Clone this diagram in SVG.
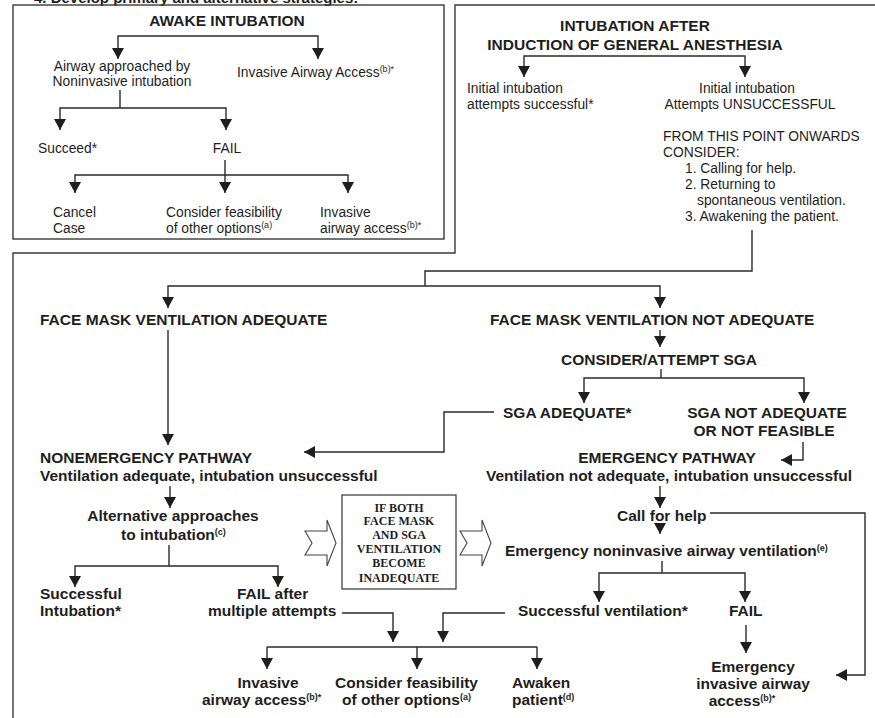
<svg xmlns="http://www.w3.org/2000/svg" width="875" height="718" viewBox="0 0 875 718">
<style>
text{font-family:"Liberation Sans",Arial,sans-serif;fill:#1e1e1e}
.r{font-size:13.8px}
.b{font-size:15.5px;font-weight:bold}
.m{text-anchor:middle}
.s{font-family:"Liberation Serif","Times New Roman",serif;font-size:12px;font-weight:bold;text-anchor:middle}
.sup{font-size:9px}
.ln{fill:none;stroke:#2a2a2a;stroke-width:1.4}
.ar{fill:none;stroke:#2a2a2a;stroke-width:1.4;marker-end:url(#ah)}
.frame{fill:none;stroke:#3a3a3a;stroke-width:1.4}
.blk{fill:#fff;stroke:#444;stroke-width:1.1}
</style>
<defs>
<marker id="ah" markerUnits="userSpaceOnUse" markerWidth="13" markerHeight="13" refX="11" refY="6.5" orient="auto">
<path d="M0,0.5 L11,6.5 L0,12.5 z" fill="#1e1e1e"/>
</marker>
</defs>
<rect width="875" height="718" fill="#fff"/>
<text class="b" x="34" y="3" style="font-size:15px">4. Develop primary and alternative strategies:</text>
<g id="frames">
<rect class="frame" x="13" y="5" width="431" height="234"/>
<path class="frame" d="M13,718 V253 H455 V5 H875"/>
</g>
<g id="connectors">
<path class="ar" d="M227,36 H118 V59"/>
<path class="ar" d="M227,36 H318 V59"/>
<path class="ln" d="M120,90 V108"/>
<path class="ar" d="M120,108 H60 V130"/>
<path class="ar" d="M120,108 H226 V130"/>
<path class="ln" d="M225,160 V175"/>
<path class="ar" d="M225,175 H75 V193"/>
<path class="ar" d="M225,175 V193"/>
<path class="ar" d="M225,175 H348 V193"/>
<path class="ar" d="M635,56 H524 V77"/>
<path class="ar" d="M635,56 H745 V77"/>
<path class="ln" d="M752,230 V271 H425 V286"/>
<path class="ar" d="M425,286 H168 V308"/>
<path class="ar" d="M425,286 H660 V308"/>
<path class="ar" d="M168,330 V445"/>
<path class="ar" d="M660,330 V347"/>
<path class="ln" d="M661,369 V378"/>
<path class="ar" d="M661,378 H584 V403"/>
<path class="ar" d="M661,378 H804 V403"/>
<path class="ar" d="M494,412 H444 V452 H304"/>
<path class="ar" d="M803,442 V460 H781"/>
<path class="ar" d="M170,486 V508"/>
<path class="ln" d="M169,545 V566"/>
<path class="ar" d="M169,566 H75 V587"/>
<path class="ar" d="M169,566 H278 V587"/>
<path class="ar" d="M342,613 H393 V642"/>
<path class="ar" d="M505,613 H443 V642"/>
<path class="ln" d="M267,647 H537"/>
<path class="ar" d="M267,647 V669"/>
<path class="ar" d="M417,647 V669"/>
<path class="ar" d="M537,647 V669"/>
<path class="ar" d="M660,486 V508"/>
<path class="ar" d="M710,513 H865 V675 H836"/>
<path class="ar" d="M660,524 V534"/>
<path class="ln" d="M662,561 V573"/>
<path class="ar" d="M662,573 H599 V602"/>
<path class="ar" d="M662,573 H745 V602"/>
<path class="ar" d="M746,625 V653"/>
<path class="blk" d="M305,531 H327 V520 L336,543 L327,566 V555 H305 L312,543 z"/>
<path class="blk" d="M460,531 H482 V520 L491,543 L482,566 V555 H460 L467,543 z"/>
</g>
<g id="awake">
<text class="b m" x="227" y="26">AWAKE INTUBATION</text>
</g>
<g id="noninvasive">
<text class="r m" x="122" y="71">Airway approached by</text>
<text class="r m" x="122" y="86">Noninvasive intubation</text>
</g>
<g id="invasive-top">
<text class="r" x="237" y="77">Invasive Airway Access<tspan class="sup" dy="-5">(b)*</tspan></text>
</g>
<g id="succeed"><text class="r" x="38" y="153">Succeed*</text></g>
<g id="fail1"><text class="r m" x="227" y="153">FAIL</text></g>
<g id="cancel">
<text class="r" x="53" y="217">Cancel</text>
<text class="r" x="53" y="233">Case</text>
</g>
<g id="consider1">
<text class="r" x="166" y="217">Consider feasibility</text>
<text class="r" x="166" y="233">of other options<tspan class="sup" dy="-5">(a)</tspan></text>
</g>
<g id="invasive1">
<text class="r" x="320" y="217">Invasive</text>
<text class="r" x="320" y="233">airway access<tspan class="sup" dy="-5">(b)*</tspan></text>
</g>
<g id="induction">
<text class="b m" x="635" y="31">INTUBATION AFTER</text>
<text class="b m" x="635" y="50">INDUCTION OF GENERAL ANESTHESIA</text>
</g>
<g id="init-success">
<text class="r" x="467" y="93">Initial intubation</text>
<text class="r" x="467" y="109">attempts successful*</text>
</g>
<g id="init-fail">
<text class="r m" x="747" y="93">Initial intubation</text>
<text class="r m" x="750" y="109">Attempts UNSUCCESSFUL</text>
</g>
<g id="consider-list">
<text class="r" x="663" y="141">FROM THIS POINT ONWARDS</text>
<text class="r" x="663" y="157">CONSIDER:</text>
<text class="r" x="685" y="173">1. Calling for help.</text>
<text class="r" x="685" y="189">2. Returning to</text>
<text class="r" x="697" y="205">spontaneous ventilation.</text>
<text class="r" x="685" y="221">3. Awakening the patient.</text>
</g>
<g id="fm-adequate"><text class="b" x="40" y="325">FACE MASK VENTILATION ADEQUATE</text></g>
<g id="fm-not"><text class="b" x="490" y="325">FACE MASK VENTILATION NOT ADEQUATE</text></g>
<g id="sga"><text class="b m" x="659" y="365">CONSIDER/ATTEMPT SGA</text></g>
<g id="sga-ok"><text class="b" x="503" y="418">SGA ADEQUATE*</text></g>
<g id="sga-not">
<text class="b m" x="767" y="418">SGA NOT ADEQUATE</text>
<text class="b m" x="764" y="436">OR NOT FEASIBLE</text>
</g>
<g id="nonemergency">
<text class="b" x="40" y="463">NONEMERGENCY PATHWAY</text>
<text class="b" x="40" y="481">Ventilation adequate, intubation unsuccessful</text>
</g>
<g id="emergency">
<text class="b m" x="667" y="463">EMERGENCY PATHWAY</text>
<text class="b m" x="669" y="481">Ventilation not adequate, intubation unsuccessful</text>
</g>
<g id="alternative">
<text class="b m" x="173" y="521">Alternative approaches</text>
<text class="b" x="121" y="540">to intubation<tspan class="sup" dy="-5">(c)</tspan></text>
</g>
<g id="successful-intubation">
<text class="b" x="40" y="599">Successful</text>
<text class="b" x="40" y="616">Intubation*</text>
</g>
<g id="fail-multiple">
<text class="b" x="237" y="599">FAIL after</text>
<text class="b" x="208" y="616">multiple attempts</text>
</g>
<g id="both-inadequate">
<rect x="342" y="495" width="114" height="94" fill="#fff" stroke="#333" stroke-width="1.2"/>
<text class="s" x="399" y="512">IF BOTH</text>
<text class="s" x="399" y="525">FACE MASK</text>
<text class="s" x="399" y="539">AND SGA</text>
<text class="s" x="399" y="553">VENTILATION</text>
<text class="s" x="399" y="567">BECOME</text>
<text class="s" x="399" y="582">INADEQUATE</text>
</g>
<g id="call-help"><text class="b" x="617" y="521">Call for help</text></g>
<g id="emerg-noninv"><text class="b" x="505" y="556">Emergency noninvasive airway ventilation<tspan class="sup" dy="-5">(e)</tspan></text></g>
<g id="succ-vent"><text class="b" x="518" y="616">Successful ventilation*</text></g>
<g id="fail2"><text class="b" x="729" y="616">FAIL</text></g>
<g id="emerg-inv">
<text class="b m" x="753" y="672">Emergency</text>
<text class="b m" x="753" y="689">invasive airway</text>
<text class="b m" x="742" y="706">access<tspan class="sup" dy="-5">(b)*</tspan></text>
</g>
<g id="invasive2">
<text class="b m" x="268" y="688">Invasive</text>
<text class="b" x="202" y="705">airway access<tspan class="sup" dy="-5">(b)*</tspan></text>
</g>
<g id="consider2">
<text class="b" x="335" y="688">Consider feasibility</text>
<text class="b" x="342" y="705">of other options<tspan class="sup" dy="-5">(a)</tspan></text>
</g>
<g id="awaken">
<text class="b" x="512" y="688">Awaken</text>
<text class="b" x="512" y="705">patient<tspan class="sup" dy="-5">(d)</tspan></text>
</g>
</svg>
